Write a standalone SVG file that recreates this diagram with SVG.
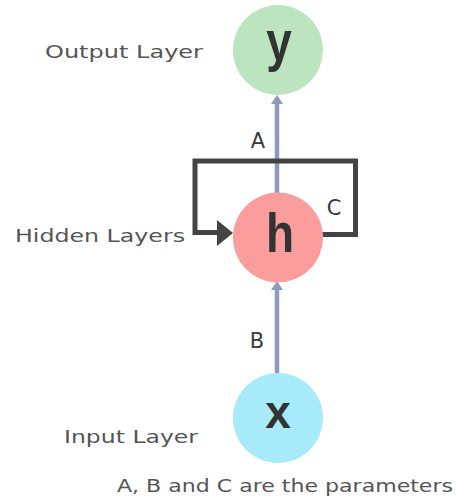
<svg xmlns="http://www.w3.org/2000/svg" width="456" height="504" viewBox="0 0 456 504">
<style>
.lbl{font-family:"DejaVu Sans","Liberation Sans",sans-serif;font-size:18px;fill:#555;}
.par{font-family:"DejaVu Sans","Liberation Sans",sans-serif;font-size:21px;fill:#3a3a3a;text-anchor:middle;}
.node{font-family:"Liberation Sans",Arial,sans-serif;font-weight:bold;font-size:46px;fill:#333;text-anchor:middle;}
.blue{stroke:#8a9cb6;stroke-width:4.5;fill:none;}
.loop{stroke:#444;stroke-width:5;fill:none;}
</style>
<rect width="456" height="504" fill="#fff"/>
<g id="connectors">
  <line class="blue" x1="277" y1="193" x2="277" y2="102"/>
  <polygon points="277,95 271,104 283,104" fill="#8a9cb6"/>
  <line class="blue" x1="277" y1="374" x2="277" y2="289"/>
  <polygon points="277,281 271,290 283,290" fill="#8a9cb6"/>
  <polyline class="loop" points="322,234.5 355.5,234.5 355.5,161 195,161 195,232.5 219,232.5"/>
  <polygon points="217,220 233,233 217,246" fill="#444"/>
  <text class="par" x="258" y="148">A</text>
  <text class="par" x="334" y="215">C</text>
  <text class="par" x="257" y="348">B</text>
</g>
<g id="node-y">
  <circle cx="278" cy="50" r="45" fill="#bce5bf"/>
  <text class="node" x="279" y="60" transform="translate(0,-12) scale(1,1.2)">y</text>
</g>
<g id="node-h">
  <circle cx="278" cy="237.5" r="45" fill="#fa9d9c"/>
  <text class="node" x="280" y="210" transform="scale(1,1.2)">h</text>
</g>
<g id="node-x">
  <circle cx="278" cy="418" r="45" fill="#a7eaf9"/>
  <text class="node" x="278" y="428">x</text>
</g>
<g id="labels">
  <text class="lbl" x="45" y="58" textLength="158" lengthAdjust="spacingAndGlyphs">Output Layer</text>
  <text class="lbl" x="15" y="242" textLength="170" lengthAdjust="spacingAndGlyphs">Hidden Layers</text>
  <text class="lbl" x="64" y="443" textLength="134" lengthAdjust="spacingAndGlyphs">Input Layer</text>
  <text class="lbl" x="117" y="492" font-size="16" textLength="336" lengthAdjust="spacingAndGlyphs">A, B and C are the parameters</text>
</g>
</svg>
